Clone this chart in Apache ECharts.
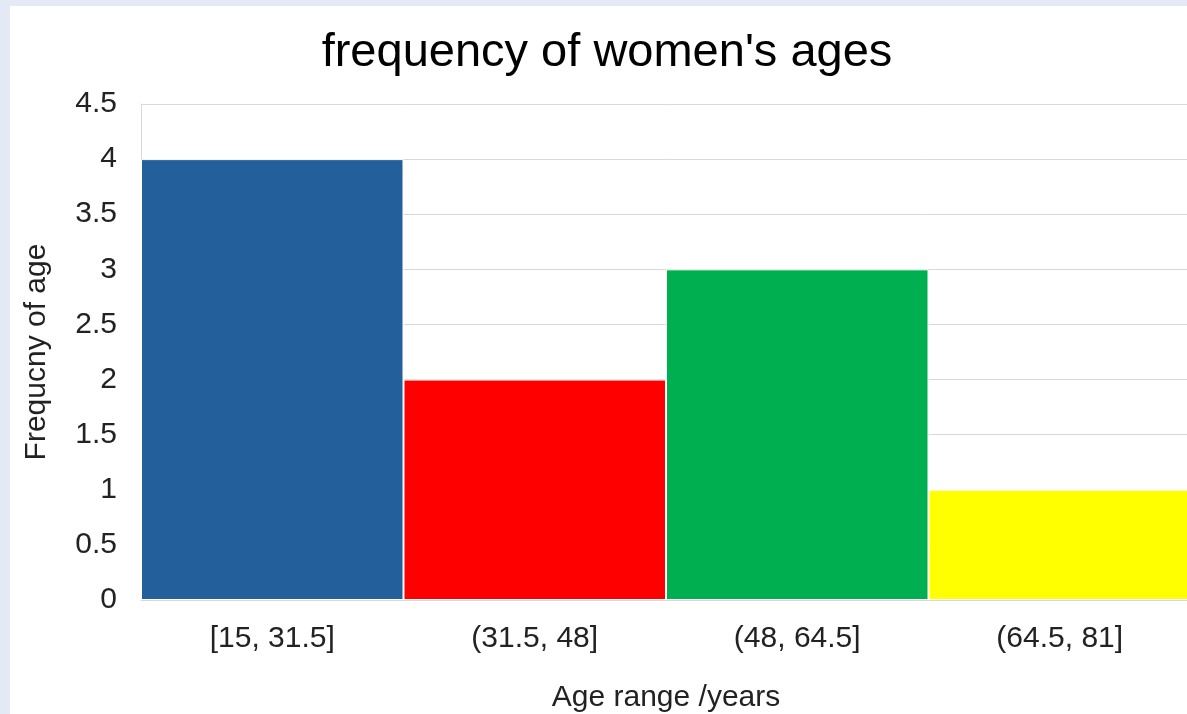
<!DOCTYPE html>
<html>
<head>
<meta charset="utf-8">
<script src="https://cdn.jsdelivr.net/npm/echarts@6/dist/echarts.min.js"></script>
<style>
  html, body { margin: 0; padding: 0; background: #e3e9f5; width: 1187px; height: 714px; overflow: hidden; }
  #chart { position: absolute; left: 10px; top: 6px; width: 1177px; height: 708px; background: #ffffff; }
</style>
</head>
<body>
<div id="chart"></div>
<script>
const titleText = "frequency of women's ages";
const categories = ["[15, 31.5]", "(31.5, 48]", "(48, 64.5]", "(64.5, 81]"];
const frequencies = [4, 2, 3, 1];
const barColors = ["#235f9a", "#ff0000", "#00b050", "#ffff00"];
const xAxisName = "Age range /years";
const yAxisName = "Frequcny of age";

const chart = echarts.init(document.getElementById('chart'), null, { renderer: 'canvas' });
const font = "'Liberation Sans', Arial, sans-serif";
chart.setOption({
  animation: false,
  backgroundColor: '#ffffff',
  title: {
    text: titleText,
    left: 592, top: 19, textAlign: 'center',
    textStyle: { fontFamily: font, fontSize: 47, fontWeight: 'normal', color: '#000000' }
  },
  grid: { left: 131, top: 98, width: 1050, height: 496, containLabel: false, outerBoundsMode: 'none' },
  xAxis: {
    type: 'category',
    data: categories,
    name: xAxisName,
    nameLocation: 'middle',
    nameGap: 83,
    nameTextStyle: { fontFamily: font, fontSize: 30, color: '#222222' },
    axisLine: { show: true, lineStyle: { color: '#d9d9d9', width: 1 } },
    axisTick: { show: false },
    axisLabel: { fontFamily: font, fontSize: 30, color: '#222222', margin: 24 }
  },
  yAxis: {
    type: 'value',
    min: 0, max: 4.5, interval: 0.5,
    name: yAxisName,
    nameLocation: 'middle',
    nameGap: 89,
    nameRotate: 90,
    nameTextStyle: { fontFamily: font, fontSize: 30, color: '#222222' },
    axisLine: { show: true, lineStyle: { color: '#d9d9d9', width: 1 } },
    axisTick: { show: false },
    axisLabel: { fontFamily: font, fontSize: 30, color: '#222222', margin: 24, padding: [4, 0, 0, 0] },
    splitLine: { show: true, lineStyle: { color: '#d9d9d9', width: 1 } }
  },
  series: [{
    type: 'bar',
    data: frequencies.map((v, i) => ({ value: v, itemStyle: { color: barColors[i] } })),
    barCategoryGap: '0%',
    itemStyle: { borderColor: '#ffffff', borderWidth: 1 }
  }]
});
</script>
</body>
</html>
